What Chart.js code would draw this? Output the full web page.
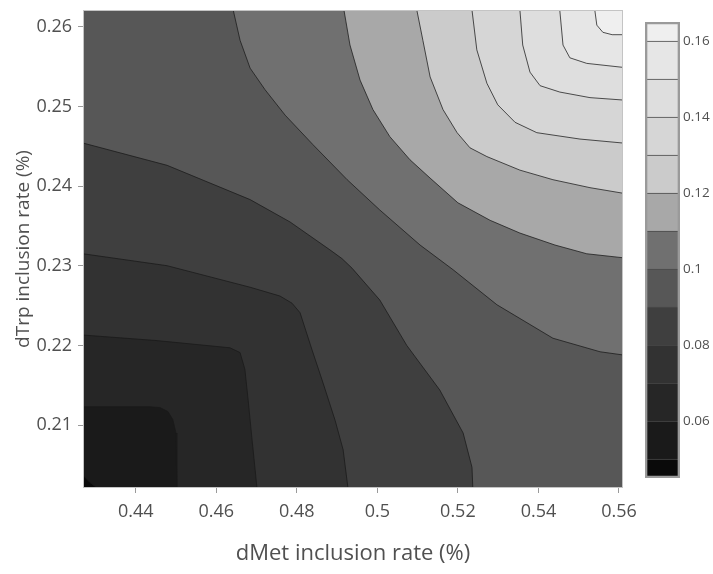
<!DOCTYPE html>
<html>
<head>
<meta charset="utf-8">
<script src="https://cdn.jsdelivr.net/npm/chart.js@4.4.1/dist/chart.umd.min.js"></script>
<style>
  body { margin: 0; background: #fff; }
  #wrap { position: relative; width: 713px; height: 574px; }
  #plot { position: absolute; left: 0; top: 0; }
  #bar { position: absolute; left: 600px; top: 0; }
</style>
</head>
<body>
<div id="wrap">
  <canvas id="plot" width="713" height="574"></canvas>
  <canvas id="bar" width="113" height="574"></canvas>
</div>
<script>
// axis ranges and ticks
const xMin = 0.4269, xMax = 0.5610;
const yMin = 0.2021, yMax = 0.2621;
const xTicks = [0.44, 0.46, 0.48, 0.5, 0.52, 0.54, 0.56];
const yTicks = [0.21, 0.22, 0.23, 0.24, 0.25, 0.26];

// contour levels, colour bar
const levels = [0.05, 0.06, 0.07, 0.08, 0.09, 0.10, 0.11, 0.12, 0.13, 0.14, 0.15, 0.16];
const barBounds = [0.045, 0.05, 0.06, 0.07, 0.08, 0.09, 0.10, 0.11, 0.12, 0.13, 0.14, 0.15, 0.16, 0.165];
const barTicks = [0.06, 0.08, 0.1, 0.12, 0.14, 0.16];
const bandColors = ['#0a0a0a', '#1a1a1a', '#262626', '#323232', '#3f3f3f', '#575757',
                    '#707070', '#a8a8a8', '#cbcbcb', '#d6d6d6', '#dedede', '#e6e6e6', '#efefef'];

// contour lines, [dMet, dTrp]
const c050 = [[0.4269,0.2037],[0.4286,0.2028],[0.4304,0.2021]];
const c060 = [[0.4269,0.2123],[0.4435,0.2123],[0.4460,0.2122],[0.4480,0.2117],[0.4492,0.2107],[0.4500,0.2090],[0.4502,0.2021]];
const c070 = [[0.4269,0.2213],[0.4453,0.2206],[0.4634,0.2197],[0.4659,0.2191],[0.4671,0.2170],[0.4679,0.2132],[0.4689,0.2081],[0.4701,0.2021]];
const c080 = [[0.4269,0.2315],[0.4478,0.2300],[0.4684,0.2273],[0.4758,0.2262],[0.4788,0.2253],[0.4808,0.2241],
              [0.4838,0.2194],[0.4865,0.2153],[0.4895,0.2106],[0.4915,0.2069],[0.4927,0.2021]];
const c090 = [[0.4269,0.2454],[0.4478,0.2426],[0.4684,0.2383],[0.4783,0.2355],[0.4882,0.2320],[0.4912,0.2309],[0.4937,0.2297],
              [0.5006,0.2257],[0.5073,0.2200],[0.5155,0.2144],[0.5213,0.2090],[0.5235,0.2047],[0.5237,0.2021]];
const c100 = [[0.4642,0.2621],[0.4659,0.2583],[0.4684,0.2548],[0.4721,0.2521],[0.4771,0.2489],[0.4840,0.2452],[0.4925,0.2408],
              [0.5006,0.2370],[0.5106,0.2326],[0.5188,0.2295],[0.5297,0.2251],[0.5436,0.2209],[0.5553,0.2192],[0.5610,0.2188]];
const c110 = [[0.4917,0.2621],[0.4932,0.2577],[0.4957,0.2533],[0.4989,0.2496],[0.5031,0.2462],[0.5081,0.2433],[0.5131,0.2410],
              [0.5200,0.2379],[0.5280,0.2357],[0.5354,0.2341],[0.5441,0.2326],[0.5520,0.2315],[0.5610,0.2310]];
const c120 = [[0.5098,0.2621],[0.5113,0.2583],[0.5131,0.2537],[0.5163,0.2496],[0.5198,0.2467],[0.5230,0.2448],[0.5272,0.2437],
              [0.5354,0.2420],[0.5436,0.2408],[0.5528,0.2398],[0.5610,0.2391]];
const c130 = [[0.5235,0.2621],[0.5247,0.2571],[0.5272,0.2529],[0.5299,0.2502],[0.5342,0.2480],[0.5396,0.2467],[0.5503,0.2459],[0.5610,0.2454]];
const c140 = [[0.5354,0.2621],[0.5361,0.2577],[0.5379,0.2543],[0.5404,0.2526],[0.5453,0.2518],[0.5528,0.2511],[0.5610,0.2508]];
const c150 = [[0.5453,0.2621],[0.5461,0.2577],[0.5478,0.2561],[0.5520,0.2554],[0.5610,0.2549]];
const c160 = [[0.5540,0.2621],[0.5545,0.2602],[0.5560,0.2593],[0.5583,0.2590],[0.5610,0.2590]];
const contours = [c050, c060, c070, c080, c090, c100, c110, c120, c130, c140, c150, c160];

const FONT = "'Open Sans', 'DejaVu Sans', sans-serif";
const TEXT = '#505050';
const fmt = v => String(Number(v.toFixed(3)));

// which side of the plot a contour end sits on
function edgeOf([x, y]) {
  const e = 1e-6;
  if (x <= xMin + e) return 'left';
  if (x >= xMax - e) return 'right';
  if (y >= yMax - e) return 'top';
  return 'bottom';
}

// close a contour around the upper/right side so it covers z > level
function closeRegion(pts) {
  const order = ['bottom', 'right', 'top', 'left'];
  const corner = { bottom: [xMax, yMin], right: [xMax, yMax], top: [xMin, yMax], left: [xMin, yMin] };
  const out = pts.slice();
  let e = edgeOf(pts[pts.length - 1]);
  const stop = edgeOf(pts[0]);
  while (e !== stop) {
    out.push(corner[e]);
    e = order[(order.indexOf(e) + 1) % 4];
  }
  return out;
}

const bandFill = {
  id: 'bandFill',
  beforeDatasetsDraw(chart) {
    const { ctx, chartArea: a, scales: { x, y } } = chart;
    ctx.save();
    ctx.beginPath();
    ctx.rect(a.left, a.top, a.width, a.height);
    ctx.clip();
    ctx.fillStyle = bandColors[0];
    ctx.fillRect(a.left, a.top, a.width, a.height);
    contours.forEach((pts, i) => {
      ctx.beginPath();
      closeRegion(pts).forEach(([vx, vy], k) => {
        const px = x.getPixelForValue(vx), py = y.getPixelForValue(vy);
        if (k) ctx.lineTo(px, py); else ctx.moveTo(px, py);
      });
      ctx.closePath();
      ctx.fillStyle = bandColors[i + 1];
      ctx.fill();
    });
    ctx.restore();
  },
  afterDraw(chart) {
    const { ctx, chartArea: a } = chart;
    ctx.save();
    ctx.strokeStyle = '#c4c4c4';
    ctx.lineWidth = 1;
    ctx.strokeRect(a.left + 0.5, a.top + 0.5, a.width - 1, a.height - 1);
    ctx.restore();
  }
};

new Chart(document.getElementById('plot'), {
  type: 'scatter',
  data: {
    datasets: contours.map((pts, i) => ({
      label: fmt(levels[i]),
      data: pts.map(([x, y]) => ({ x, y })),
      showLine: true,
      borderColor: 'rgba(25,25,25,0.75)',
      borderWidth: 1,
      pointRadius: 0,
      fill: false
    }))
  },
  options: {
    responsive: false,
    animation: false,
    layout: { padding: { top: 10, right: 90, left: 0, bottom: 0 } },
    plugins: { legend: { display: false }, tooltip: { enabled: false } },
    scales: {
      x: {
        type: 'linear', min: xMin, max: xMax,
        afterFit: s => { s.height = 86; s.paddingLeft = 0; s.paddingRight = 0; },
        afterBuildTicks: s => { s.ticks = xTicks.map(v => ({ value: v })); },
        grid: { drawOnChartArea: false, drawTicks: true, tickLength: 5, color: '#9a9a9a' },
        border: { display: false },
        ticks: { callback: v => fmt(v), font: { family: FONT, size: 18 }, color: TEXT, padding: 8, maxRotation: 0, autoSkip: false },
        title: { display: true, text: 'dMet inclusion rate (%)', font: { family: FONT, size: 22 }, color: TEXT, padding: { top: 0, bottom: 7 } }
      },
      y: {
        type: 'linear', min: yMin, max: yMax,
        afterFit: s => { s.width = 83; s.paddingTop = 0; s.paddingBottom = 0; },
        afterBuildTicks: s => { s.ticks = yTicks.map(v => ({ value: v })); },
        grid: { drawOnChartArea: false, drawTicks: true, tickLength: 5, color: '#9a9a9a' },
        border: { display: false },
        ticks: { callback: v => fmt(v), font: { family: FONT, size: 18 }, color: TEXT, padding: 6, autoSkip: false },
        title: { display: true, text: 'dTrp inclusion rate (%)', font: { family: FONT, size: 19 }, color: TEXT, padding: { top: 12, bottom: 0 } }
      }
    }
  },
  plugins: [bandFill]
});

// colour bar: one floating bar per band plus an outline
const barSets = bandColors.map((c, i) => ({
  data: [[barBounds[i], barBounds[i + 1]]],
  backgroundColor: c,
  borderColor: '#4a4a4a',
  borderWidth: { top: 1, bottom: 0, left: 0, right: 0 },
  borderSkipped: false,
  grouped: false,
  barPercentage: 1,
  categoryPercentage: 1,
  order: 1
}));
barSets.push({
  data: [[barBounds[0], barBounds[barBounds.length - 1]]],
  backgroundColor: 'rgba(0,0,0,0)',
  borderColor: '#9a9a9a',
  borderWidth: 2,
  borderSkipped: false,
  grouped: false,
  barPercentage: 1,
  categoryPercentage: 1,
  order: 0
});

new Chart(document.getElementById('bar'), {
  type: 'bar',
  data: { labels: [''], datasets: barSets },
  options: {
    responsive: false,
    animation: false,
    layout: { padding: { top: 22, bottom: 96, left: 45, right: 0 } },
    plugins: { legend: { display: false }, tooltip: { enabled: false } },
    scales: {
      x: { display: false },
      y: {
        position: 'right', min: barBounds[0], max: barBounds[barBounds.length - 1],
        afterFit: s => { s.width = 33; s.paddingTop = 0; s.paddingBottom = 0; },
        afterBuildTicks: s => { s.ticks = barTicks.map(v => ({ value: v })); },
        grid: { display: false, drawTicks: false },
        border: { display: false },
        ticks: { callback: v => fmt(v), font: { family: FONT, size: 13.5 }, color: TEXT, padding: 3, autoSkip: false }
      }
    }
  }
});
</script>
</body>
</html>
